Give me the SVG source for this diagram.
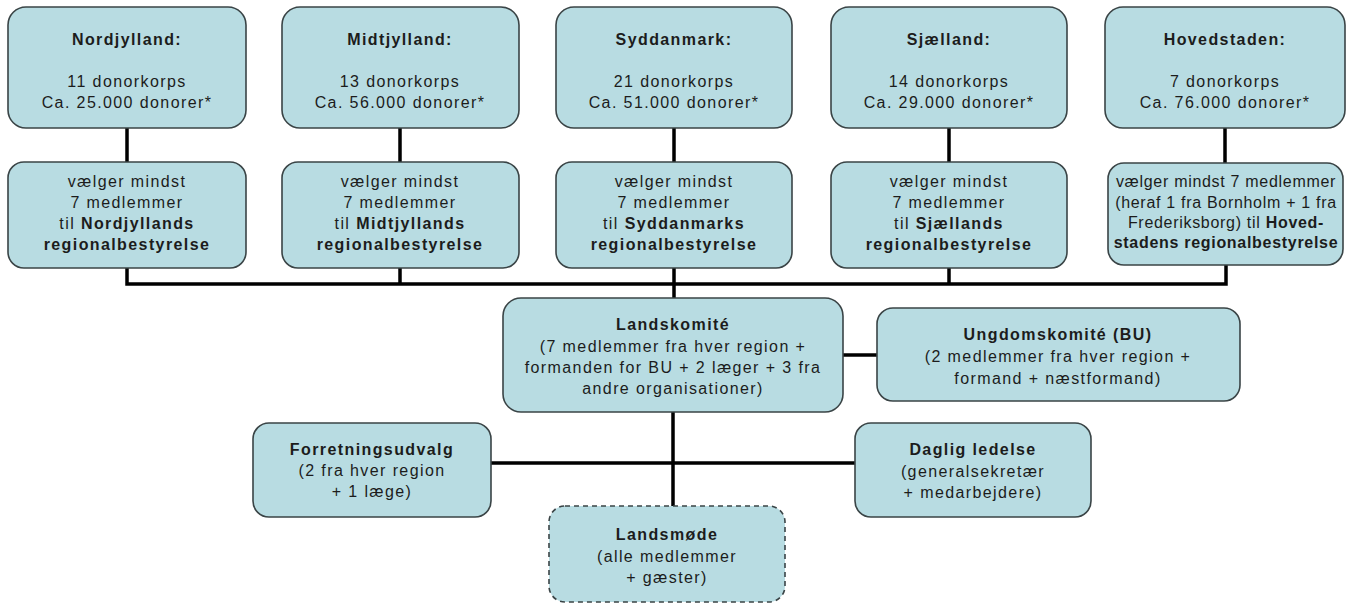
<svg xmlns="http://www.w3.org/2000/svg" width="1356" height="604" viewBox="0 0 1356 604">
<style>
.box{fill:#b8dce2;stroke:#3a4446;stroke-width:1.6}
.dash{stroke-dasharray:5 4}
.t{font-family:"Liberation Sans",Arial,sans-serif;font-size:16px;letter-spacing:1.4px;fill:#1c1c1c;text-anchor:middle}
.tight{letter-spacing:0.7px}
.b{font-weight:bold}
.c{fill:none;stroke:#000;stroke-width:3.5}
</style>
<rect width="1356" height="604" fill="#ffffff"/>
<g id="connectors">
<path class="c" d="M127 128V162M400 128V162M674 128V162M949 128V162M1225 128V163"/>
<path class="c" d="M127 268V284H1226V265M400 268V284M949 268V284M674 268V298"/>
<path class="c" d="M843 355H877"/>
<path class="c" d="M673 412V506M491 463H855"/>
</g>
<g id="nordjylland">
<rect class="box" x="8" y="7" width="238" height="121" rx="18"/>
<text class="t b" x="127" y="45">Nordjylland:</text>
<text class="t" x="127" y="87">11 donorkorps</text>
<text class="t" x="127" y="108">Ca. 25.000 donorer*</text>
</g>
<g id="midtjylland">
<rect class="box" x="282" y="7" width="237" height="121" rx="18"/>
<text class="t b" x="400" y="45">Midtjylland:</text>
<text class="t" x="400" y="87">13 donorkorps</text>
<text class="t" x="400" y="108">Ca. 56.000 donorer*</text>
</g>
<g id="syddanmark">
<rect class="box" x="556" y="7" width="236" height="121" rx="18"/>
<text class="t b" x="674" y="45">Syddanmark:</text>
<text class="t" x="674" y="87">21 donorkorps</text>
<text class="t" x="674" y="108">Ca. 51.000 donorer*</text>
</g>
<g id="sjaelland">
<rect class="box" x="831" y="7" width="236" height="121" rx="18"/>
<text class="t b" x="949" y="45">Sjælland:</text>
<text class="t" x="949" y="87">14 donorkorps</text>
<text class="t" x="949" y="108">Ca. 29.000 donorer*</text>
</g>
<g id="hovedstaden">
<rect class="box" x="1105" y="7" width="240" height="121" rx="18"/>
<text class="t b" x="1225" y="45">Hovedstaden:</text>
<text class="t" x="1225" y="87">7 donorkorps</text>
<text class="t" x="1225" y="108">Ca. 76.000 donorer*</text>
</g>
<g id="nordjylland-valg">
<rect class="box" x="8" y="162" width="238" height="106" rx="16"/>
<text class="t" x="127" y="187">vælger mindst</text>
<text class="t" x="127" y="208">7 medlemmer</text>
<text class="t" x="127" y="229">til <tspan class="b">Nordjyllands</tspan></text>
<text class="t b" x="127" y="250">regionalbestyrelse</text>
</g>
<g id="midtjylland-valg">
<rect class="box" x="282" y="162" width="237" height="106" rx="16"/>
<text class="t" x="400" y="187">vælger mindst</text>
<text class="t" x="400" y="208">7 medlemmer</text>
<text class="t" x="400" y="229">til <tspan class="b">Midtjyllands</tspan></text>
<text class="t b" x="400" y="250">regionalbestyrelse</text>
</g>
<g id="syddanmark-valg">
<rect class="box" x="556" y="162" width="236" height="106" rx="16"/>
<text class="t" x="674" y="187">vælger mindst</text>
<text class="t" x="674" y="208">7 medlemmer</text>
<text class="t" x="674" y="229">til <tspan class="b">Syddanmarks</tspan></text>
<text class="t b" x="674" y="250">regionalbestyrelse</text>
</g>
<g id="sjaelland-valg">
<rect class="box" x="831" y="162" width="236" height="106" rx="16"/>
<text class="t" x="949" y="187">vælger mindst</text>
<text class="t" x="949" y="208">7 medlemmer</text>
<text class="t" x="949" y="229">til <tspan class="b">Sjællands</tspan></text>
<text class="t b" x="949" y="250">regionalbestyrelse</text>
</g>
<g id="hovedstaden-valg">
<rect class="box" x="1108" y="163" width="235" height="102" rx="16"/>
<text class="t tight" x="1226" y="187">vælger mindst 7 medlemmer</text>
<text class="t tight" x="1226" y="208">(heraf 1 fra Bornholm + 1 fra</text>
<text class="t tight" x="1226" y="228">Frederiksborg) til <tspan class="b">Hoved-</tspan></text>
<text class="t tight b" x="1226" y="248">stadens regionalbestyrelse</text>
</g>
<g id="landskomite">
<rect class="box" x="503" y="298" width="340" height="114" rx="18"/>
<text class="t b" x="673" y="330">Landskomité</text>
<text class="t" x="673" y="352">(7 medlemmer fra hver region +</text>
<text class="t" x="673" y="373">formanden for BU + 2 læger + 3 fra</text>
<text class="t" x="673" y="394">andre organisationer)</text>
</g>
<g id="ungdomskomite">
<rect class="box" x="877" y="308" width="363" height="93" rx="16"/>
<text class="t b" x="1058" y="340">Ungdomskomité (BU)</text>
<text class="t" x="1058" y="362">(2 medlemmer fra hver region +</text>
<text class="t" x="1058" y="384">formand + næstformand)</text>
</g>
<g id="forretningsudvalg">
<rect class="box" x="253" y="423" width="238" height="94" rx="16"/>
<text class="t b" x="372" y="455">Forretningsudvalg</text>
<text class="t" x="372" y="476">(2 fra hver region</text>
<text class="t" x="372" y="497">+ 1 læge)</text>
</g>
<g id="daglig-ledelse">
<rect class="box" x="855" y="423" width="236" height="94" rx="16"/>
<text class="t b" x="973" y="455">Daglig ledelse</text>
<text class="t" x="973" y="477">(generalsekretær</text>
<text class="t" x="973" y="498">+ medarbejdere)</text>
</g>
<g id="landsmode">
<rect class="box dash" x="549" y="506" width="236" height="96" rx="16"/>
<text class="t b" x="667" y="540">Landsmøde</text>
<text class="t" x="667" y="562">(alle medlemmer</text>
<text class="t" x="667" y="583">+ gæster)</text>
</g>
</svg>
